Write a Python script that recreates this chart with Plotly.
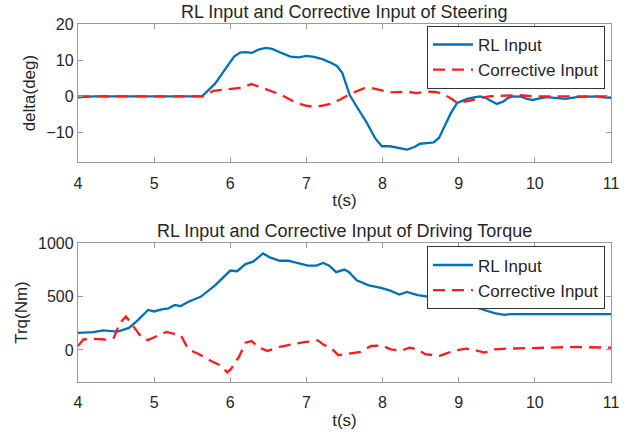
import plotly.graph_objects as go

# ---- Steering (deg) ----
t_steer_rl = [4.0, 4.2, 5.63, 5.8, 5.95, 6.05, 6.13, 6.2, 6.28, 6.38, 6.47, 6.55, 6.65, 6.79, 6.9, 7.0, 7.1, 7.22,
              7.32, 7.4, 7.47, 7.53, 7.57, 7.68, 7.79, 7.9, 7.99, 8.1, 8.2, 8.32, 8.42, 8.49, 8.58, 8.67, 8.74,
              8.8, 8.9, 8.98, 9.05, 9.11, 9.2, 9.28, 9.35, 9.42, 9.5, 9.58, 9.65, 9.72, 9.82, 9.9, 9.97, 10.05,
              10.15, 10.3, 10.4, 10.55, 10.7, 10.8, 10.9, 11.0]
steer_rl = [-0.3, 0.0, 0.0, 3.5, 8.0, 11.0, 12.1, 12.2, 12.0, 13.0, 13.4, 13.1, 12.2, 11.0, 10.8, 11.2, 10.9, 10.2,
            9.3, 8.4, 6.5, 3.0, 0.3, -3.5, -7.2, -11.5, -13.8, -13.8, -14.3, -14.7, -14.0, -13.1, -12.9, -12.7, -11.5,
            -9.0, -4.5, -1.8, -1.1, -0.7, -0.3, 0.0, -0.4, -1.3, -2.1, -1.5, -0.4, 0.0, -0.1, -0.7, -1.0, -0.6,
            -0.2, -0.5, -0.7, -0.2, 0.0, 0.0, -0.3, -0.4]

t_steer_corr = [4.0, 5.63, 5.78, 5.98, 6.15, 6.28, 6.47, 6.65, 6.87, 7.0, 7.09, 7.2, 7.31, 7.45, 7.57, 7.75, 7.88,
                8.0, 8.1, 8.32, 8.45, 8.58, 8.7, 8.8, 8.9, 8.98, 9.15, 9.28, 9.4, 9.6, 9.8, 10.0, 10.5, 11.0]
steer_corr = [0.0, 0.0, 1.5, 1.9, 2.4, 3.4, 1.9, 0.6, -1.8, -2.6, -2.8, -2.6, -2.1, -0.8, 0.6, 2.2, 2.2,
              1.5, 1.1, 1.3, 0.9, 1.3, 1.2, 0.6, -0.6, -1.8, -1.2, -0.4, 0.0, 0.2, 0.3, 0.0, 0.0, 0.0]

# ---- Driving torque (Nm) ----
t_trq_rl = [4.0, 4.2, 4.33, 4.52, 4.67, 4.79, 4.92, 5.0, 5.1, 5.19, 5.27, 5.35, 5.45, 5.61, 5.8, 6.0, 6.09, 6.2,
            6.3, 6.43, 6.52, 6.65, 6.76, 6.91, 7.02, 7.13, 7.22, 7.3, 7.39, 7.5, 7.56, 7.66, 7.82, 7.98, 8.11,
            8.22, 8.32, 8.46, 8.62, 8.72, 8.94, 9.1, 9.26, 9.47, 9.6, 9.68, 11.0]
trq_rl = [160, 166, 184, 172, 206, 282, 374, 360, 380, 390, 420, 411, 451, 497, 605, 743, 737, 804,
          826, 903, 866, 835, 835, 810, 789, 789, 814, 789, 728, 752, 728, 651, 605, 580, 553,
          519, 543, 513, 497, 473, 457, 436, 390, 344, 328, 335, 335]

t_trq_corr = [4.0, 4.07, 4.2, 4.36, 4.47, 4.55, 4.63, 4.68, 4.76, 4.84, 4.92, 5.03, 5.16, 5.24, 5.35, 5.45, 5.59,
              5.74, 5.88, 5.96, 6.01, 6.12, 6.2, 6.28, 6.38, 6.49, 6.65, 6.81, 6.97, 7.1, 7.15, 7.23, 7.31, 7.42,
              7.55, 7.71, 7.85, 7.98, 8.11, 8.24, 8.35, 8.46, 8.56, 8.75, 8.83, 8.96, 9.1, 9.2, 9.34, 9.47,
              9.63, 9.89, 10.21, 10.53, 11.0]
trq_corr = [37, 98, 104, 98, 114, 252, 313, 267, 190, 114, 92, 129, 169, 154, 138, 6, -40,
            -101, -147, -209, -178, -55, 68, 83, 21, -9, 28, 52, 74, 83, 89, 46, 28, -49,
            -34, -18, 37, 43, 6, -9, 21, 6, -40, -55, -34, -3, 12, 0, -25, 6,
            12, 18, 21, 28, 21]

x_ticks = [4, 5, 6, 7, 8, 9, 10, 11]
steer_ticks = [-10, 0, 10, 20]
trq_ticks = [0, 500, 1000]

BLUE = "#0072BD"
RED = "#FF1A1A"
TXT = "#262626"
AX = "#9a9a9a"
FONT = "Liberation Sans, Arial, sans-serif"

fig = go.Figure()
fig.add_trace(go.Scatter(x=t_steer_rl, y=steer_rl, mode="lines", name="RL Input",
                         line=dict(color=BLUE, width=2.3), xaxis="x", yaxis="y", legend="legend"))
fig.add_trace(go.Scatter(x=t_steer_corr, y=steer_corr, mode="lines", name="Corrective Input",
                         line=dict(color=RED, width=2.3, dash="12px,7px"), xaxis="x", yaxis="y", legend="legend"))
fig.add_trace(go.Scatter(x=t_trq_rl, y=trq_rl, mode="lines", name="RL Input",
                         line=dict(color=BLUE, width=2.3), xaxis="x2", yaxis="y2", legend="legend2"))
fig.add_trace(go.Scatter(x=t_trq_corr, y=trq_corr, mode="lines", name="Corrective Input",
                         line=dict(color=RED, width=2.3, dash="12px,7px"), xaxis="x2", yaxis="y2", legend="legend2"))

axis_common = dict(showline=True, linecolor=AX, linewidth=1.3, mirror="ticks", ticks="inside",
                   ticklen=5, tickcolor=AX, showgrid=False, zeroline=False,
                   tickfont=dict(size=16, color=TXT, family=FONT))

top_dom = [0.614, 1.0]
bot_dom = [0.0, 0.388]

xt = dict(text="t(s)", standoff=3, font=dict(size=17))

fig.update_layout(
    width=635, height=438,
    margin=dict(l=78, r=24, t=24, b=53),
    paper_bgcolor="white", plot_bgcolor="white",
    font=dict(family=FONT, color=TXT, size=16),
    xaxis=dict(domain=[0, 1], range=[4, 11], tickvals=x_ticks, anchor="y", ticklabelstandoff=6,
               title=xt, **axis_common),
    yaxis=dict(domain=top_dom, range=[-18.2, 20], tickvals=steer_ticks, anchor="x",
               title=dict(text="delta(deg)", standoff=6, font=dict(size=17)), **axis_common),
    xaxis2=dict(domain=[0, 1], range=[4, 11], tickvals=x_ticks, anchor="y2", ticklabelstandoff=6,
                title=xt, **axis_common),
    yaxis2=dict(domain=bot_dom, range=[-300, 1000], tickvals=trq_ticks, anchor="x2",
                title=dict(text="Trq(Nm)", standoff=6, font=dict(size=17)), **axis_common),
    legend=dict(x=0.9887, xanchor="right", y=0.9945, yanchor="top", bgcolor="white",
                bordercolor="#333333", borderwidth=1, font=dict(size=17, color=TXT),
                tracegroupgap=0, itemwidth=40),
    legend2=dict(x=0.9887, xanchor="right", y=0.3787, yanchor="top", bgcolor="white",
                 bordercolor="#333333", borderwidth=1, font=dict(size=17, color=TXT),
                 tracegroupgap=0, itemwidth=40),
    annotations=[
        dict(text="RL Input and Corrective Input of Steering", x=0.5, xref="paper", y=top_dom[1], yref="paper",
             xanchor="center", yanchor="bottom", yshift=0, showarrow=False, font=dict(size=18, color=TXT)),
        dict(text="RL Input and Corrective Input of Driving Torque", x=0.5, xref="paper", y=bot_dom[1],
             yref="paper", xanchor="center", yanchor="bottom", yshift=0, showarrow=False,
             font=dict(size=18, color=TXT)),
    ],
)

fig.write_html("out.html")
